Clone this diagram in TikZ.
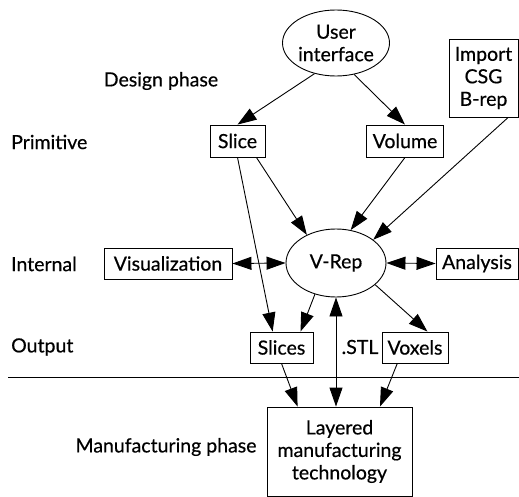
\documentclass[tikz,border=0pt]{standalone}
\usepackage{fontspec}
\setmainfont{Lato}[FakeBold=0.5]
\usetikzlibrary{arrows.meta,shapes.geometric}
\begin{document}
\begin{tikzpicture}[x=1pt,y=-1pt,
  every node/.style={font=\fontsize{19.5}{22.5}\selectfont, inner sep=0pt},
  box/.style={draw, line width=0.9pt, rectangle, align=center},
  oval/.style={draw, line width=0.9pt, ellipse, align=center},
  lbl/.style={anchor=west},
  tip/.tip={Triangle[length=19pt,width=13pt]},
  link/.style={line width=0.9pt, -tip},
  dlink/.style={line width=0.9pt, tip-tip}]
\useasboundingbox (0,0) rectangle (519,497);

% nodes
\node[oval, minimum width=97pt, minimum height=66pt] (ui) at (336,43) {User\\interface};
\node[box, minimum width=69pt, minimum height=78pt] (import) at (483.5,78) {Import\\CSG\\B-rep};
\node[box, minimum width=55pt, minimum height=32pt] (slice) at (237.5,141) {Slice};
\node[box, minimum width=77pt, minimum height=32pt] (volume) at (405,141) {Volume};
\node[oval, minimum width=100pt, minimum height=68pt] (vrep) at (336,263) {V-Rep};
\node[box, minimum width=128pt, minimum height=31pt] (viz) at (168,263.5) {Visualization};
\node[box, minimum width=82pt, minimum height=31pt] (analysis) at (477,263.5) {Analysis};
\node[box, minimum width=63pt, minimum height=31pt] (slices) at (281.5,347.5) {Slices};
\node[box, minimum width=66pt, minimum height=31pt] (voxels) at (415,347.5) {Voxels};
\node[box, minimum width=145pt, minimum height=89pt] (layered) at (339.5,451.5) {Layered\\manufacturing\\technology};

% row labels
\node (design) at (161,81) {Design phase};
\node[lbl] (prim) at (11,142) {Primitive};
\node[lbl] (internal) at (11,264) {Internal};
\node[lbl] (output) at (11,347) {Output};
\node (manuf) at (166,447) {Manufacturing phase};
\node (stl) at (360,347) {.STL};

% phase separator
\coordinate (sepL) at (8,377);
\coordinate (sepR) at (519,377);
\draw[line width=0.9pt] (sepL) -- (sepR);

% connectors
\draw[link] (ui.235.5) -- (slice.north);
\draw[link] (ui.300.7) -- (volume.north);
\draw[link] (slice.-41) -- (vrep.136);
\draw[link] (volume.south) -- (vrep.66);
\draw[link] (import.-58) -- (vrep.32);
\draw[link] (slice.south) -- (slices.119);
\draw[link] (vrep.236) -- (slices.40);
\draw[link] (vrep.-29) -- (voxels.52);
\draw[dlink] (vrep.south) -- (vrep.south |- layered.north);
\draw[link] (slices.south) -- (layered.133);
\draw[link] (voxels.222) -- (layered.48);
\draw[dlink] (viz.east) -- (vrep.west);
\draw[dlink] (vrep.east) -- (analysis.west);
\end{tikzpicture}
\end{document}
